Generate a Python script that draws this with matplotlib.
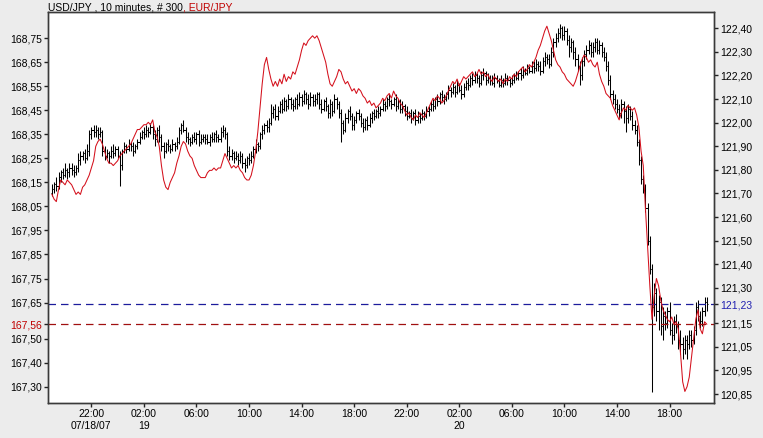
import numpy as np
import matplotlib.pyplot as plt

# USD/JPY 10 minute bars, pips above 121.00
usd_open = """
70 72 74 73 77 79 78 80 79 81  80 79 81 84 86 87 85 88 95 97  96 97 95 96 88 86 87 86 88 87
89 86 82 88 90 89 91 90 88 90  92 94 96 95 97 96 98 95 93 97  94 90 88 91 90 89 91 90 92 97
99 97 94 93 92 94 93 95 92 93  94 93 92 94 93 95 94 93 96 97  95 88 86 87 85 86 84 86 83 82
85 84 86 89 91 90 95 97 99 98  100 104 106 103 105 108 106 109 107 110  108 107 110 108 111 109 112 110 108 111
109 110 112 108 106 109 107 104 108 105  110 108 104 100 97 102 105 103 99 101  104 103 100 98 101 99 102 104 103 105
104 106 108 107 110 109 108 110 107 109  106 107 105 103 104 102 104 101 103 102  104 103 105 106 108 107 110 109 112 111
110 112 114 113 115 113 116 114 112 115  117 116 119 118 120 119 117 120 121 118  119 118 117 119 118 116 118 117 119 118
117 118 120 119 121 120 122 121 123 122  124 123 125 124 122 126 128 127 125 130  134 136 138 140 137 139 135 132 134 130
127 124 120 126 129 131 133 130 132 134  131 133 130 128 124 118 112 110 108 106  104 108 105 102 106 103 99 97 92 84
76 72 64 50 38 22 28 20 24 14  18 15 20 12 10 16 14 8 6 4  8 6 10 8 12 22 18 16 20 24
"""
usd_high = """
74 75 77 79 80 81 83 81 83 83  82 82 87 88 88 89 91 97 98 99  99 98 98 97 90 89 88 90 91 90
90 88 89 92 91 93 92 92 91 93  96 97 98 99 98 100 99 97 98 99  95 92 92 93 91 93 92 94 98 100
101 98 96 94 95 96 96 97 95 95  95 95 95 96 96 97 95 98 99 98  96 90 89 88 88 87 88 87 85 86
87 88 90 93 92 96 99 100 101 102  108 107 108 107 109 110 111 110 112 111  110 111 112 113 112 114 113 112 113 112
112 113 113 110 110 111 108 110 109 112  111 109 106 101 104 106 107 104 103 105  106 104 102 102 103 104 105 106 106 107
107 110 109 111 112 110 111 112 110 110  109 108 107 105 106 105 106 105 104 106  105 107 107 109 110 111 112 113 114 112
113 116 115 117 116 118 117 116 117 118  119 120 121 122 121 120 122 123 122 121  120 120 121 120 119 120 119 121 120 119
120 121 122 122 123 124 123 125 124 126  126 127 126 126 128 130 129 129 132 136  138 140 142 141 141 140 137 136 135 132
129 126 128 131 133 135 134 134 136 136  135 134 132 130 126 120 114 112 110 108  110 109 107 108 107 105 101 99 93 86
78 74 66 52 40 32 30 27 26 22  20 22 24 15 18 19 16 12 9 10  10 12 12 14 24 25 20 22 26 26
"""
usd_low = """
69 70 71 72 75 76 77 76 77 78  77 78 79 82 84 83 84 86 93 94  94 93 94 86 84 85 83 85 85 86
85 73 80 87 87 88 88 86 87 89  91 93 93 94 94 95 93 90 92 92  88 85 87 88 87 88 88 89 91 95
96 92 91 90 91 92 91 90 91 92  91 91 90 92 92 92 92 92 94 93  86 84 84 83 84 82 83 81 79 81
82 83 85 87 88 89 93 95 96 96  99 102 101 101 104 104 105 105 106 106  105 106 106 107 107 108 108 106 107 107
107 108 106 104 105 105 102 102 103 104  106 102 92 95 96 100 101 97 97 100  101 98 96 97 97 98 100 101 102 102
103 105 105 106 107 106 107 105 106 104  104 103 101 102 100 101 99 100 100 101  101 102 103 105 105 106 107 108 109 108
109 110 111 112 111 112 113 110 111 114  114 115 116 117 117 115 116 118 116 117  116 116 115 117 115 115 115 116 116 115
116 117 118 118 118 119 120 120 121 121  121 122 122 120 121 124 125 123 124 128  132 134 136 135 135 133 128 130 127 124
122 116 118 124 127 129 128 128 130 129  129 128 126 122 116 110 108 106 104 102  102 100 96 100 101 97 95 90 82 74
70 62 48 36 -14 18 16 12 10 8  12 13 10 6 8 11 4 2 0 2  0 4 5 6 10 16 13 14 18 20
"""
usd_close = """
72 74 73 77 79 78 80 79 81 80  79 81 84 86 87 85 88 95 97 96  97 95 96 88 86 87 86 88 87 89
86 82 88 90 89 91 90 88 90 92  94 96 95 97 96 98 95 93 97 94  90 88 91 90 89 91 90 92 97 99
97 94 93 92 94 93 95 92 93 94  93 92 94 93 95 94 93 96 97 95  88 86 87 85 86 84 86 83 82 85
84 86 89 91 90 95 97 99 98 100  104 106 103 105 108 106 109 107 110 108  107 110 108 111 109 112 110 108 111 109
110 112 108 106 109 107 104 108 105 110  108 104 100 97 102 105 103 99 101 104  103 100 98 101 99 102 104 103 105 104
106 108 107 110 109 108 110 107 109 106  107 105 103 104 102 104 101 103 102 104  103 105 106 108 107 110 109 112 111 110
112 114 113 115 113 116 114 112 115 117  116 119 118 120 119 117 120 121 118 119  118 117 119 118 116 118 117 119 118 117
118 120 119 121 120 122 121 123 122 124  123 125 124 122 126 128 127 125 130 134  136 138 140 137 139 135 132 134 130 127
124 120 126 129 131 133 130 132 134 131  133 130 128 124 118 112 110 108 106 104  108 105 102 106 103 99 97 92 84 76
72 64 50 38 22 28 20 24 14 18  15 20 12 10 16 14 8 6 4 8  6 10 8 12 22 18 16 20 24 23
"""
# EUR/JPY closes, pips above 167.00
eur_close = """
110 108 107 112 116 115 114 116 115 114  112 110 111 110 113 114 116 118 121 124  130 132 133 131 128 125 123 123 122 123
124 126 127 128 129 130 131 133 135 137  137 138 139 139 140 139 141 136 134 130  122 116 113 112 115 117 119 123 126 130
132 131 128 126 125 122 120 118 117 117  117 119 120 120 121 120 121 121 124 127  125 123 121 122 121 122 120 119 117 116
116 118 122 128 136 146 156 164 167 162  158 155 157 155 158 156 160 157 159 158  161 160 163 166 170 173 172 174 175 176
175 176 174 171 168 165 160 156 155 157  159 162 161 158 156 157 155 153 154 152  154 153 151 150 148 149 147 148 146 147
148 150 149 151 152 150 153 151 150 148  147 145 143 144 142 141 143 142 144 143  142 144 146 148 150 149 151 150 148 149
151 153 155 157 156 158 155 157 159 158  159 160 161 159 160 162 160 161 159 160  158 157 159 158 157 158 156 158 157 159
158 160 159 161 162 163 161 162 164 163  165 167 170 172 175 178 180 177 174 170  166 164 163 161 160 158 157 156 155 157
160 163 166 168 167 165 166 164 163 165  160 157 155 152 151 150 147 145 143 141  144 146 145 147 146 145 146 143 138 128
122 104 88 72 58 68 75 72 66 62  60 58 57 59 56 57 54 44 32 28  30 34 42 50 58 62 54 52 57 56
"""

usd_last = 121.23
eur_last = 167.56

tick_pos = [18, 42, 66, 90, 114, 138, 162, 186, 210, 234, 258, 282]
tick_lab = ['22:00\n07/18/07', '02:00\n19', '06:00', '10:00', '14:00', '18:00',
            '22:00', '02:00\n20', '06:00', '10:00', '14:00', '18:00']

left_ticks = [168.75, 168.65, 168.55, 168.45, 168.35, 168.25, 168.15, 168.05,
              167.95, 167.85, 167.75, 167.65, 167.56, 167.50, 167.40, 167.30]
right_ticks = [122.40, 122.30, 122.20, 122.10, 122.00, 121.90, 121.80, 121.70,
               121.60, 121.50, 121.40, 121.30, 121.23, 121.15, 121.05, 120.95, 120.85]


def parse(s, base):
    return base + np.array(s.split(), dtype=float) / 100


o = parse(usd_open, 121.0)
h = parse(usd_high, 121.0)
l = parse(usd_low, 121.0)
c = parse(usd_close, 121.0)
e = parse(eur_close, 167.0)
x = np.arange(len(c))

plt.rcParams['font.family'] = ['Liberation Sans', 'DejaVu Sans']
bg = '#ececec'
fig = plt.figure(figsize=(7.63, 4.38), dpi=100, facecolor=bg)
ax = fig.add_axes([48 / 763, 35 / 438, 666 / 763, 391 / 438])
ax.set_facecolor('white')
ax2 = ax.twinx()

# USD/JPY bars (right axis)
ax.vlines(x, l, h, color='black', linewidth=0.75)
ax.hlines(o, x - 0.55, x, color='black', linewidth=0.75)
ax.hlines(c, x, x + 0.55, color='black', linewidth=0.75)
ax.axhline(usd_last, color='#1c1c9c', linewidth=0.9, dashes=(6, 4))
ax.set_ylim(120.812, 122.469)
ax.set_xlim(-1.8, 302.3)

# EUR/JPY line (left axis)
ax2.plot(x, e, color='#d4101c', linewidth=0.75)
ax2.axhline(eur_last, color='#a01010', linewidth=0.9, dashes=(6, 4))
ax2.set_ylim(167.232, 168.859)

ax.yaxis.tick_right()
ax2.yaxis.tick_left()
fmt = lambda v: ('%.2f' % v).replace('.', ',')
ax.set_yticks(right_ticks, labels=[fmt(v) for v in right_ticks])
ax2.set_yticks(left_ticks, labels=[fmt(v) for v in left_ticks])

ax.set_xticks(tick_pos, labels=tick_lab)
ax.tick_params(axis='both', length=3, width=1, pad=1.5, labelsize=7.5, colors='#222222',
               labelcolor='black')
ax2.tick_params(axis='y', length=3, width=1, pad=1.5, labelsize=7.5, colors='#222222',
                labelcolor='black')
for t in ax.get_yticklabels():
    if t.get_text() == fmt(usd_last):
        t.set_color('#2020b0')
for t in ax2.get_yticklabels():
    if t.get_text() == fmt(eur_last):
        t.set_color('#c00000')

for a in (ax, ax2):
    for sp in a.spines.values():
        sp.set_color('#3a3a3a')
        sp.set_linewidth(1)

# title
t1 = fig.text(48 / 763, 1 - 8 / 438, 'USD/JPY , 10 minutes, # 300', fontsize=7.5,
              va='center', ha='left', color='black')
fig.canvas.draw()
bb = t1.get_window_extent()
fig.text(bb.x1 / fig.bbox.width, 1 - 8 / 438, ', EUR/JPY', fontsize=7.5,
         va='center', ha='left', color='#c00000')

fig.savefig('out.png', dpi=100, facecolor=bg)
